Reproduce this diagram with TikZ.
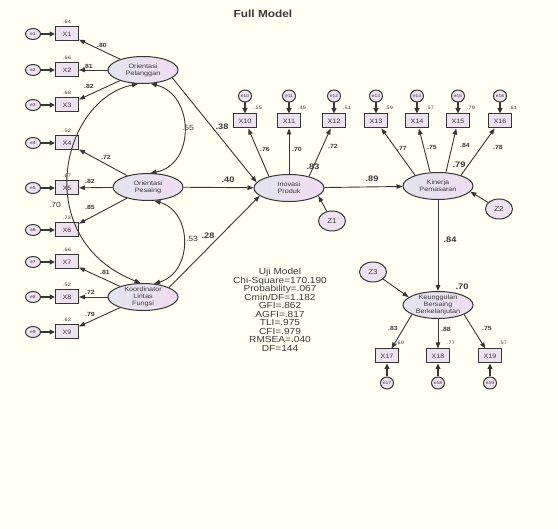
\documentclass[tikz,border=0pt]{standalone}
\usepackage{fontspec}
\setmainfont[FakeStretch=1.15]{Liberation Sans}
\usetikzlibrary{arrows.meta,shapes.geometric}
\definecolor{bg}{HTML}{FFFFF3}
\definecolor{ln}{HTML}{363636}
\definecolor{txt}{HTML}{3A3A3A}
\definecolor{boxfill}{HTML}{EFE2F0}
\definecolor{latl}{HTML}{E2E4EE}
\definecolor{latr}{HTML}{F1DCF1}
\begin{document}
\begin{tikzpicture}[x=1pt,y=-1pt,
  obs/.style={draw=ln, line width=1pt, fill=boxfill, minimum width=23pt, minimum height=14pt, inner sep=0pt, text=txt, font=\fontsize{6.3}{7}\selectfont},
  err/.style={ellipse, draw=ln, line width=1pt, fill=boxfill, minimum width=15pt, minimum height=11pt, inner sep=0pt, text=txt, font=\fontsize{4.3}{5}\selectfont},
  lat/.style={ellipse, draw=ln, line width=1pt, left color=latl, right color=latr, minimum width=70pt, minimum height=27pt, inner sep=0pt},
  lattxt/.style={align=center, inner sep=0pt, text=txt, font=\fontsize{6.3}{6.8}\selectfont},
  dist/.style={ellipse, draw=ln, line width=1pt, fill=boxfill, minimum width=27pt, minimum height=20pt, inner sep=0pt, text=txt, font=\fontsize{7}{8}\selectfont},
  pth/.style={draw=ln, line width=0.9pt, -{Triangle[length=6pt,width=4.5pt]}},
  eth/.style={draw=ln, line width=1.6pt, -{Triangle[length=5.5pt,width=5pt]}},
  cov/.style={draw=ln, line width=0.9pt, {Triangle[length=6pt,width=4.5pt]}-{Triangle[length=6pt,width=4.5pt]}},
  sm/.style={inner sep=0pt, text=txt, font=\fontsize{4.8}{5}\selectfont},
  ld/.style={inner sep=0pt, text=txt, font=\bfseries\fontsize{6}{7}\selectfont},
  bd/.style={inner sep=0pt, text=txt, font=\bfseries\fontsize{8}{9}\selectfont},
  cv/.style={inner sep=0pt, text=txt, font=\fontsize{7.5}{8}\selectfont},
]
\fill[bg] (0,0) rectangle (558,529);
\useasboundingbox (0,0) rectangle (558,529);

\node[text=txt, font=\bfseries\fontsize{10.3}{12}\selectfont] (title) at (263,14) {Full Model};

% latent variables
\node[lat, label={[lattxt]center:Orientasi\\Pelanggan}] (OP) at (143,70) {};
\node[lat, label={[lattxt]center:Orientasi\\Pesaing}] (OS) at (148,187) {};
\node[lat, label={[lattxt]center:Koordinator\\Lintas\\Fungsi}] (KL) at (143,297) {};
\node[lat, label={[lattxt]center:Inovasi\\Produk}] (IP) at (289,188) {};
\node[lat, label={[lattxt]center:Kinerja\\Pemasaran}] (KP) at (438,186) {};
\node[lat, label={[lattxt]center:Keunggulan\\Bersaing\\Berkelanjutan}] (KB) at (438,305) {};

% disturbances
\node[dist] (Z1) at (332,221) {Z1};
\node[dist] (Z2) at (499,209) {Z2};
\node[dist] (Z3) at (373,272) {Z3};

% indicators left
\foreach \n/\y/\rr in {1/34/.64, 2/70/.66, 3/105/.68, 4/143/.52, 5/188/.67, 6/230/.73, 7/262/.66, 8/297/.52, 9/332/.63}{
  \node[obs] (X\n) at (67,\y) {X\n};
  \node[err] (e\n) at (33,\y) {e\n};
  \node[sm] (r\n) at (67,\y-12) {\rr};
  \draw[eth] (e\n) -- (X\n);
}
% indicators top
\foreach \n/\x/\rr in {10/245/.55, 11/289/.49, 12/334/.51, 13/376/.59, 14/417/.57, 15/458/.79, 16/500/.61}{
  \node[obs] (X\n) at (\x,121) {X\n};
  \node[err, minimum width=13pt, minimum height=12pt] (e\n) at (\x,96) {e\n};
  \node[sm] (r\n) at (\x+13,108) {\rr};
  \draw[eth] (e\n) -- (X\n);
}
% indicators bottom
\foreach \n/\x/\rr in {17/387/.69, 18/438/.77, 19/490/.57}{
  \node[obs] (X\n) at (\x,356) {X\n};
  \node[err, minimum width=13pt, minimum height=12pt] (e\n) at (\x,383) {e\n};
  \node[sm] (r\n) at (\x+13,343) {\rr};
  \draw[eth] (e\n) -- (X\n);
}

% loadings
\foreach \t/\n in {OP/1, OP/2, OP/3, OS/4, OS/5, OS/6, KL/7, KL/8, KL/9}
  \draw[pth] (\t) -- (X\n);
\draw[pth] (IP.150) -- (X10);
\draw[pth] (IP) -- (X11);
\draw[pth] (IP.30) -- (X12);
\draw[pth] (KP.155) -- (X13);
\draw[pth] (KP.120) -- (X14);
\draw[pth] (KP.60) -- (X15);
\draw[pth] (KP.25) -- (X16);
\draw[pth] (KB.200) -- (X17);
\draw[pth] (KB) -- (X18);
\draw[pth] (KB.-20) -- (X19);

% structural paths
\draw[pth] (OP.-15) -- (IP.170);
\draw[pth] (OS) -- (IP);
\draw[pth] (KL.20) -- (IP.195);
\draw[pth] (IP) -- (KP);
\draw[pth] (KP) -- (KB);
\draw[pth] (Z1) -- (IP.-15);
\draw[pth] (Z2) -- (KP.-10);
\draw[pth] (Z3) -- (KB.165);

% covariances
\draw[cov] (OP.-60) .. controls (195,95) and (195,165) .. (OS.80);
\draw[cov] (OS.-65) .. controls (193,212) and (193,272) .. (KL.50);
\draw[cov] (OP.-110) .. controls (60,100) and (30,240) .. (KL.100);

% loading labels
\node[ld] (l1) at (102,45) {.80};
\node[ld] (l2) at (88,66) {.81};
\node[ld] (l3) at (89,86) {.82};
\node[ld] (l4) at (106,157) {.72};
\node[ld] (l5) at (90,181) {.82};
\node[ld] (l6) at (90,207) {.85};
\node[ld] (l7) at (105,272) {.81};
\node[ld] (l8) at (90,292) {.72};
\node[ld] (l9) at (90,314) {.79};
\node[ld] (l10) at (265,149) {.76};
\node[ld] (l11) at (297,149) {.70};
\node[ld] (l12) at (333,146) {.72};
\node[ld] (l13) at (402,148) {.77};
\node[ld] (l14) at (432,147) {.75};
\node[ld] (l15) at (465,145) {.84};
\node[ld] (l16) at (498,147) {.78};
\node[ld] (l17) at (393,328) {.83};
\node[ld] (l18) at (446,329) {.88};
\node[ld] (l19) at (487,328) {.75};

% covariance labels
\node[cv] (c1) at (188,128) {.55};
\node[cv] (c2) at (192,239) {.53};
\node[cv] (c3) at (55,205) {.70};

% structural labels and R2
\node[bd] (b1) at (222,127) {.38};
\node[bd] (b2) at (228,180) {.40};
\node[bd] (b3) at (208,236) {.28};
\node[bd] (b4) at (372,179) {.89};
\node[bd] (b5) at (450,240) {.84};
\node[bd] (b6) at (313,167) {.83};
\node[bd] (b7) at (459,165) {.79};
\node[bd] (b8) at (462,287) {.70};

% fit statistics
\node[align=center, inner sep=0pt, text=txt, font=\fontsize{8.8}{8.5}\selectfont] (uji) at (280,310)
  {Uji Model\\Chi-Square=170.190\\Probability=.067\\Cmin/DF=1.182\\GFI=.862\\AGFI=.817\\TLI=.975\\CFI=.979\\RMSEA=.040\\DF=144};
\end{tikzpicture}
\end{document}
